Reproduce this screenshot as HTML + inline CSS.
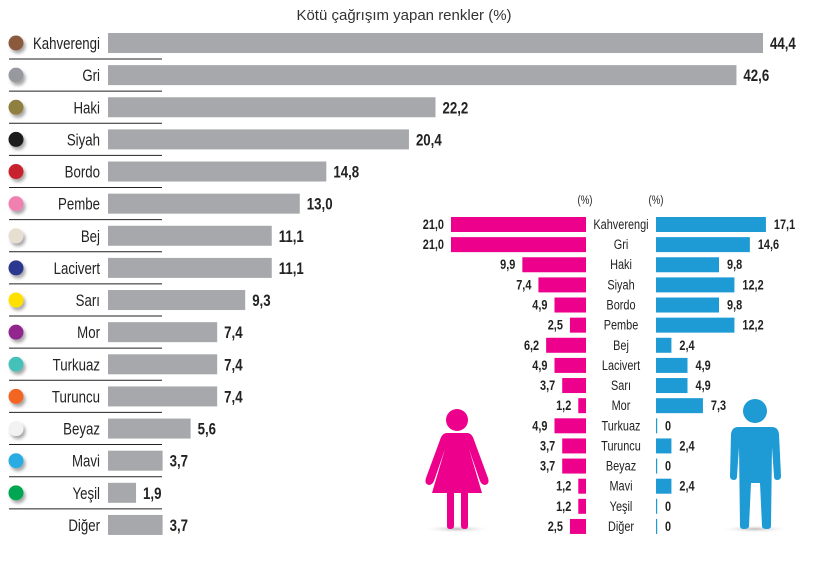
<!DOCTYPE html>
<html><head><meta charset="utf-8">
<style>
html,body{margin:0;padding:0;background:#fff;}
svg{display:block;}
.cond{font-family:"Liberation Sans Narrow","Liberation Sans",sans-serif;}
</style></head>
<body>
<svg id="chart" width="831" height="561" viewBox="0 0 831 561" xmlns="http://www.w3.org/2000/svg">
<defs>
<filter id="sh" x="-50%" y="-50%" width="220%" height="220%"><feDropShadow dx="2" dy="3" stdDeviation="1.5" flood-color="#000" flood-opacity="0.35"/></filter>
<radialGradient id="fshadow"><stop offset="0" stop-color="#bbb"/><stop offset="1" stop-color="#fff" stop-opacity="0"/></radialGradient>
</defs>
<text x="404" y="20" text-anchor="middle" font-family="Liberation Sans, sans-serif" font-size="15" fill="#333">Kötü çağrışım yapan renkler (%)</text>
<g id="left"></g>
<g id="right"></g>
<text x="585" y="204" text-anchor="middle" class="cond" font-size="12" fill="#222" transform="translate(585 0) scale(0.8 1) translate(-585 0)">(%)</text>
<text x="656" y="204" text-anchor="middle" class="cond" font-size="12" fill="#222" transform="translate(656 0) scale(0.8 1) translate(-656 0)">(%)</text>
<g fill="#ec008c">
<ellipse cx="457" cy="529" rx="35" ry="4" fill="url(#fshadow)"/>
<circle cx="457" cy="420" r="11"/>
<path d="M447 433 L467 433 Q472 433 474 440 L488 478 Q490 484 485 485 Q482 485 480 481 L469 449 L482 493 L468 493 L468 526 Q468 529 465 529 Q461 529 461 526 L461 493 L454 493 L454 526 Q454 529 450 529 Q447 529 447 526 L447 493 L432 493 L445 449 L434 481 Q432 485 429 485 Q424 484 426 478 L440 440 Q442 433 447 433Z"/>
</g>
<g fill="#1e9ad4">
<ellipse cx="755" cy="529" rx="35" ry="4" fill="url(#fshadow)"/>
<circle cx="755" cy="411" r="12"/>
<path d="M738 427 L772 427 Q778 427 779 434 L781 476 Q781 480 777 480 Q774 480 774 476 L772 447 L771 526 Q771 529 767 529 Q762 529 762 526 L760 483 L751 483 L749 526 Q749 529 744 529 Q740 529 740 526 L739 447 L737 476 Q737 480 734 480 Q730 480 730 476 L731 434 Q732 427 738 427Z"/>
</g>
</svg>
<script>
const categories=["Kahverengi","Gri","Haki","Siyah","Bordo","Pembe","Bej","Lacivert","Sarı","Mor","Turkuaz","Turuncu","Beyaz","Mavi","Yeşil","Diğer"];
const overall=[44.4,42.6,22.2,20.4,14.8,13.0,11.1,11.1,9.3,7.4,7.4,7.4,5.6,3.7,1.9,3.7];
const women=[21.0,21.0,9.9,7.4,4.9,2.5,6.2,4.9,3.7,1.2,4.9,3.7,3.7,1.2,1.2,2.5];
const men=[17.1,14.6,9.8,12.2,9.8,12.2,2.4,4.9,4.9,7.3,0,2.4,0,2.4,0,0];
const dotColors=["#8b5a3c","#98999e","#8f8040","#1a1a1a","#c8202f","#f080b0","#e6dfd0","#2b3990","#ffe000","#92278f","#45c1b9","#f26522","#f2f2f2","#29abe2","#00a651",null];
const NS="http://www.w3.org/2000/svg";
function mk(tag,attrs,parent){const e=document.createElementNS(NS,tag);for(const k in attrs)e.setAttribute(k,attrs[k]);parent.appendChild(e);return e;}
function fmt(v){return v===0?"0":v.toFixed(1).replace(".",",");}
function cond(t,x){t.setAttribute("transform",`translate(${x} 0) scale(0.78 1) translate(${-x} 0)`);}
// left chart
const L=document.getElementById("left");
const lx0=108,lscale=655/44.4;
const ly=i=>43+i*32.13;
categories.forEach((c,i)=>{
  const y=ly(i);
  if(dotColors[i]){
    const d=mk("circle",{cx:16,cy:y,r:7.5,fill:dotColors[i],filter:"url(#sh)"},L);
    
    
  }
  const t=mk("text",{x:100,y:y+6,"text-anchor":"end","font-size":17,fill:"#222",class:"cond"},L);
  t.textContent=c;cond(t,100);
  
  
  if(i<categories.length-1){
    const ln=mk("line",{x1:9,x2:162,y1:y+16,y2:y+16,stroke:"#222","stroke-width":1},L);
    
    
  }
  const w=overall[i]*lscale;
  const r=mk("rect",{x:lx0,y:y-10,width:w,height:20,fill:"#a7a8ab"},L);
  
  
  const v=mk("text",{x:lx0+w+7,y:y+6,"font-size":17,"font-weight":"bold",fill:"#222",class:"cond"},L);
  v.textContent=fmt(overall[i]);cond(v,lx0+w+7);
  
  
});
// right chart
const R=document.getElementById("right");
const wx=586,mx=656,rscale=135/21.0;
const ry=i=>224+i*20.13;
categories.forEach((c,i)=>{
  const y=ry(i);
  const t=mk("text",{x:621,y:y+5,"text-anchor":"middle","font-size":14,fill:"#222",class:"cond"},R);
  t.textContent=c;cond(t,621);
  
  
  const ww=women[i]*rscale;
  const rw=mk("rect",{x:wx-ww,y:y-7,width:ww,height:15,fill:"#ec008c"},R);
  
  
  const vw=mk("text",{x:wx-ww-7,y:y+5,"text-anchor":"end","font-size":14,"font-weight":"bold",fill:"#222",class:"cond"},R);
  vw.textContent=fmt(women[i]);cond(vw,wx-ww-7);
  
  
  const mw=Math.max(men[i]*rscale,1.2);
  const rm=mk("rect",{x:mx,y:y-7,width:mw,height:15,fill:"#1e9ad4"},R);
  
  
  const vx=mx+men[i]*rscale+(men[i]===0?9:8);
  const vm=mk("text",{x:vx,y:y+5,"font-size":14,"font-weight":"bold",fill:"#222",class:"cond"},R);
  vm.textContent=fmt(men[i]);cond(vm,vx);
  
  
});
</script>
</body></html>
